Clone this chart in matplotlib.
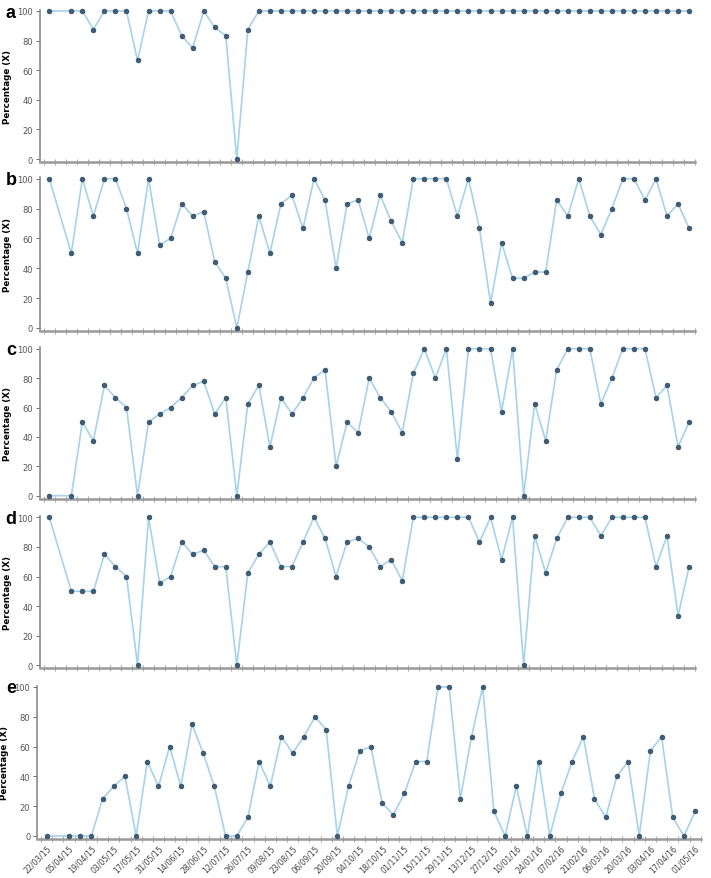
import matplotlib
matplotlib.use("Agg")
import matplotlib.pyplot as plt

# weekly observations, week index 1 (29/03/15) has no data
weeks = [0] + list(range(2, 59))

panel_a = [100, 100, 100, 87.5, 100, 100, 100, 66.7, 100, 100, 100, 83.3, 75, 100, 88.9, 83.3, 0, 87.5,
           100, 100, 100, 100, 100, 100, 100, 100, 100, 100, 100, 100, 100, 100, 100, 100, 100, 100, 100, 100,
           100, 100, 100, 100, 100, 100, 100, 100, 100, 100, 100, 100, 100, 100, 100, 100, 100, 100, 100, 100]
panel_b = [100, 50, 100, 75, 100, 100, 80, 50, 100, 55.6, 60, 83.3, 75, 77.8, 44.4, 33.3, 0, 37.5,
           75, 50, 83.3, 88.9, 66.7, 100, 85.7, 40, 83.3, 85.7, 60, 88.9, 71.4, 57.1, 100, 100, 100, 100,
           75, 100, 66.7, 16.7, 57.1, 33.3, 33.3, 37.5, 37.5, 85.7, 75, 100, 75, 62.5, 80, 100, 100, 85.7,
           100, 75, 83.3, 66.7]
panel_c = [0, 0, 50, 37.5, 75, 66.7, 60, 0, 50, 55.6, 60, 66.7, 75, 77.8, 55.6, 66.7, 0, 62.5,
           75, 33.3, 66.7, 55.6, 66.7, 80, 85.7, 20, 50, 42.9, 80, 66.7, 57.1, 42.9, 83.3, 100, 80, 100,
           25, 100, 100, 100, 57.1, 100, 0, 62.5, 37.5, 85.7, 100, 100, 100, 62.5, 80, 100, 100, 100,
           66.7, 75, 33.3, 50]
panel_d = [100, 50, 50, 50, 75, 66.7, 60, 0, 100, 55.6, 60, 83.3, 75, 77.8, 66.7, 66.7, 0, 62.5,
           75, 83.3, 66.7, 66.7, 83.3, 100, 85.7, 60, 83.3, 85.7, 80, 66.7, 71.4, 57.1, 100, 100, 100, 100,
           100, 100, 83.3, 100, 71.4, 100, 0, 87.5, 62.5, 85.7, 100, 100, 100, 87.5, 100, 100, 100, 100,
           66.7, 87.5, 33.3, 66.7]
panel_e = [0, 0, 0, 0, 25, 33.3, 40, 0, 50, 33.3, 60, 33.3, 75, 55.6, 33.3, 0, 0, 12.5,
           50, 33.3, 66.7, 55.6, 66.7, 80, 71.4, 0, 33.3, 57.1, 60, 22.2, 14.3, 28.6, 50, 50, 100, 100,
           25, 66.7, 100, 16.7, 0, 33.3, 0, 50, 0, 28.6, 50, 66.7, 25, 12.5, 40, 50, 0, 57.1,
           66.7, 12.5, 0, 16.7]

date_labels = ["22/03/15", "05/04/15", "19/04/15", "03/05/15", "17/05/15", "31/05/15", "14/06/15",
               "28/06/15", "12/07/15", "26/07/15", "09/08/15", "23/08/15", "06/09/15", "20/09/15",
               "04/10/15", "18/10/15", "01/11/15", "15/11/15", "29/11/15", "13/12/15", "27/12/15",
               "10/01/16", "24/01/16", "07/02/16", "21/02/16", "06/03/16", "20/03/16", "03/04/16",
               "17/04/16", "01/05/16"]

letters = ["a", "b", "c", "d", "e"]
series = [panel_a, panel_b, panel_c, panel_d, panel_e]

W, H = 711, 879
# pixel rows of the 100 and 0 gridlines, and left/right of the plot area
y100 = [12, 179.7, 349.7, 518.3, 688]
y0 = [160, 329, 496.7, 666.3, 837]
x_left = [39.9, 39.9, 39.9, 39.9, 37.2]
x_right = [694.6, 694.6, 694.6, 694.6, 700.7]

line_col = "#a6d2ea"
dot_col = "#3e5d76"

fig = plt.figure(figsize=(W / 100, H / 100), dpi=100)

for i in range(5):
    ppu = (y0[i] - y100[i]) / 100
    top = y100[i] - 1 * ppu
    bottom = y0[i] + 2 * ppu
    ax = fig.add_axes([x_left[i] / W, 1 - bottom / H,
                       (x_right[i] - x_left[i]) / W, (bottom - top) / H])
    ax.plot(weeks, series[i], color=line_col, lw=1.2, zorder=2, clip_on=False)
    ax.plot(weeks, series[i], "o", color=dot_col, ms=3.4, mec="#2f4a60", mew=0.5,
            zorder=3, clip_on=False)
    ax.set_xlim(-0.85, 58.5)
    ax.set_ylim(-2, 101)
    ax.set_yticks([0, 20, 40, 60, 80, 100])
    ax.tick_params(axis="y", labelsize=6, colors="#555555", length=3, width=0.6, pad=2)
    for s in ["top", "right"]:
        ax.spines[s].set_visible(False)
    ax.spines["left"].set_color("#8a8a8a")
    ax.spines["left"].set_linewidth(1.2)
    ax.spines["bottom"].set_color("#9a9a9a")
    ax.spines["bottom"].set_linewidth(1.8)

    # week boundaries as small crossing ticks
    ax.set_xticks([k + 0.5 for k in range(-1, 59)], minor=True)
    ax.tick_params(axis="x", which="minor", direction="inout", length=5, width=0.6,
                   color="#9a9a9a")
    ax.set_xticks(list(range(0, 59, 2)))
    ax.tick_params(axis="x", which="major", length=0)
    if i == 4:
        ax.set_xticklabels(date_labels, rotation=45, ha="right", rotation_mode="anchor",
                           fontsize=5.6, color="#444444")
        ax.tick_params(axis="x", which="major", pad=3)
    else:
        ax.set_xticklabels([])

    ax.set_ylabel("Percentage (X)", fontsize=6.3, fontweight="bold", labelpad=4)
    fig.text(11 / W, 1 - (y100[i] + 1) / H, letters[i], fontsize=13, fontweight="bold",
             ha="center", va="center", family="Liberation Sans")

fig.savefig("out.png", dpi=100)
